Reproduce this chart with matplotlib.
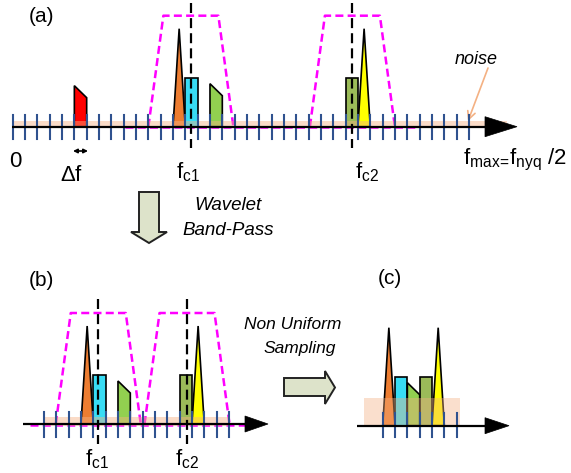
import matplotlib
matplotlib.use("Agg")
import matplotlib.pyplot as plt
from matplotlib.patches import Polygon, Rectangle

plt.rcParams['font.family'] = ['Liberation Sans', 'DejaVu Sans']
plt.rcParams['mathtext.fontset'] = 'custom'
plt.rcParams['mathtext.rm'] = 'Liberation Sans'
plt.rcParams['mathtext.it'] = 'Liberation Sans:italic'

# ---------------- data (schematic spectrum) ----------------
signal_kinds = ['tri', 'rect', 'slope', 'rect', 'tri']
signal_colors = ['#ED7D31', '#38DCF4', '#92D050', '#9BBB59', '#FFFF00']
signal_heights = [98, 49, 43, 49, 98]      # amplitude of each component
slope_end_height = 31                      # right edge of the sloped component
red_bin = 5                                # out-of-band component (panel a)
red_heights = [41, 29]

a_bins = [13, 14, 16, 27, 28]              # bin index of each component, panel (a)
b_bins = [3, 4, 6, 11, 12]                 # panel (b)
c_bins = [0, 1, 2, 3, 4]                   # panel (c)
a_fc = [14.45, 27.55]                      # centre frequencies (bins)
b_fc = [4.4, 11.6]
n_ticks = {'a': 38, 'b': 16, 'c': 7}
filter_height = 111
noise_height_ac = [6, 28]                  # noise floor height (a/b, c)

# ---------------- figure ----------------
fig = plt.figure(figsize=(5.71, 4.73), dpi=100)
ax = fig.add_axes([0, 0, 1, 1])
ax.set_xlim(0, 571)
ax.set_ylim(473, 0)
ax.axis('off')

BW = 12.33
TICK_C = '#2F528F'
BAND_C = '#F4B183'
MAG_DASH = (0, (3.2, 1.7))
BLK_DASH = (0, (4.5, 2.3))


def draw_axis(x0, x1, y, tip, head_base, hh):
    ax.plot([x0, head_base + 2], [y, y], color='black', lw=1.6, zorder=6, solid_capstyle='butt')
    ax.add_patch(Polygon([(head_base, y - hh), (tip, y), (head_base, y + hh)],
                         closed=True, facecolor='black', edgecolor='black', lw=0.5, zorder=6))


def draw_ticks(x0, y, n, up, down):
    for i in range(n):
        x = x0 + i * BW
        ax.plot([x, x], [y - up, y + down], color=TICK_C, lw=1.5, zorder=5)


def draw_signals(x0, y, bins):
    for kind, col, h, b in zip(signal_kinds, signal_colors, signal_heights, bins):
        xl = x0 + b * BW
        xr = xl + BW
        if kind == 'tri':
            pts = [(xl, y), ((xl + xr) / 2, y - h), (xr, y)]
        elif kind == 'rect':
            pts = [(xl, y), (xl, y - h), (xr, y - h), (xr, y)]
        else:
            pts = [(xl, y), (xl, y - h), (xr, y - slope_end_height), (xr, y)]
        ax.add_patch(Polygon(pts, closed=True, facecolor=col, edgecolor='black', lw=1.2, zorder=3))


def draw_filter(x0, y, fc_bin, top_hw=27.5, bot_hw=42.5):
    xc = x0 + fc_bin * BW
    ax.plot([xc - bot_hw, xc - top_hw, xc + top_hw, xc + bot_hw],
            [y, y - filter_height, y - filter_height, y],
            color='#FF00FF', lw=1.8, ls=MAG_DASH, zorder=2)


def draw_fc_line(x0, y, fc_bin, up, down):
    xc = x0 + fc_bin * BW
    ax.plot([xc, xc], [y - up, y + down], color='black', lw=1.6, ls=BLK_DASH, zorder=7)


def block_arrow(pts):
    ax.add_patch(Polygon(pts, closed=True, facecolor='#DDE3CA', edgecolor='#222222', lw=1.4, zorder=4))


# ---------------- panel (a) ----------------
xa0, ya = 12.7, 126.7
ax.plot([125, 420], [ya + 0.8, ya + 0.8], color='#FF00FF', lw=1.8, ls=MAG_DASH, zorder=2)
for fc in a_fc:
    draw_filter(xa0, ya, fc)
draw_signals(xa0, ya, a_bins)
xl = xa0 + red_bin * BW
ax.add_patch(Polygon([(xl, ya), (xl, ya - red_heights[0]), (xl + BW, ya - red_heights[1]), (xl + BW, ya)],
                     closed=True, facecolor='#FF0000', edgecolor='black', lw=1.2, zorder=3))
ax.add_patch(Rectangle((12, ya - noise_height_ac[0]), 495, noise_height_ac[0] + 1.6,
                       facecolor=BAND_C, alpha=0.45, edgecolor='none', zorder=4))
draw_ticks(xa0, ya, n_ticks['a'], 11.7, 12.3)
draw_axis(12, 517, ya, 517, 485, 10)
for fc in a_fc:
    draw_fc_line(xa0, ya, fc, 124, 21)

ax.text(41, 16, '(a)', fontsize=15, ha='center', va='center')
ax.text(15, 161, '0', fontsize=16, ha='center', va='center')
ax.annotate('', xy=(73, 151), xytext=(88, 151),
            arrowprops=dict(arrowstyle='<|-|>', color='black', lw=1.2, mutation_scale=6, shrinkA=0, shrinkB=0))
ax.text(72, 175, r'$\mathrm{\Delta f}$', fontsize=16, ha='center', va='center')
ax.text(188, 172, r'$\mathrm{f_{c1}}$', fontsize=16, ha='center', va='center')
ax.text(367, 172, r'$\mathrm{f_{c2}}$', fontsize=16, ha='center', va='center')
ax.text(463, 160, r'$\mathrm{f_{max\!=\!}f_{nyq}}$ /2', fontsize=16, ha='left', va='center')
ax.text(476, 59, 'noise', fontsize=13, style='italic', ha='center', va='center')
ax.annotate('', xy=(468, 121), xytext=(488, 68),
            arrowprops=dict(arrowstyle='->', color=BAND_C, lw=1.2, mutation_scale=14, shrinkA=0, shrinkB=0))

# ---------------- transition arrows ----------------
cx = 149
block_arrow([(cx - 10, 192), (cx + 10, 192), (cx + 10, 232), (cx + 18, 232), (cx, 243),
             (cx - 18, 232), (cx - 10, 232)])
ax.text(228, 205, 'Wavelet', fontsize=13.5, style='italic', ha='center', va='center')
ax.text(228, 230, 'Band-Pass', fontsize=13.5, style='italic', ha='center', va='center')

block_arrow([(284, 378), (325, 378), (325, 371), (335, 387.5), (325, 404), (325, 396), (284, 396)])
ax.text(293, 324, 'Non Uniform', fontsize=12.5, style='italic', ha='center', va='center')
ax.text(300, 348, 'Sampling', fontsize=12.5, style='italic', ha='center', va='center')

# ---------------- panel (b) ----------------
xb0, yb = 44, 424
ax.plot([30, 245], [yb + 0.8, yb + 0.8], color='#FF00FF', lw=1.8, ls=MAG_DASH, zorder=2)
for fc in b_fc:
    draw_filter(xb0, yb, fc)
draw_signals(xb0, yb, b_bins)
ax.add_patch(Rectangle((43, yb - 7), 187, 8.5, facecolor=BAND_C, alpha=0.45, edgecolor='none', zorder=4))
draw_ticks(xb0, yb, n_ticks['b'], 12.3, 12.7)
draw_axis(23, 268, yb, 268, 245, 8)
for fc in b_fc:
    draw_fc_line(xb0, yb, fc, 125, 20)
ax.text(41, 280, '(b)', fontsize=15, ha='center', va='center')
ax.text(97, 459, r'$\mathrm{f_{c1}}$', fontsize=16, ha='center', va='center')
ax.text(187, 459, r'$\mathrm{f_{c2}}$', fontsize=16, ha='center', va='center')

# ---------------- panel (c) ----------------
xc0, yc = 382.7, 425.7
draw_signals(xc0, yc, c_bins)
ax.add_patch(Rectangle((364, yc - noise_height_ac[1]), 96, noise_height_ac[1],
                       facecolor=BAND_C, alpha=0.4, edgecolor='none', zorder=4))
draw_ticks(xc0, yc, n_ticks['c'], 12.7, 11.3)
draw_axis(357, 509, yc, 509, 485, 8)
ax.text(390, 278, '(c)', fontsize=15, ha='center', va='center')

fig.savefig('out.png', dpi=100)
